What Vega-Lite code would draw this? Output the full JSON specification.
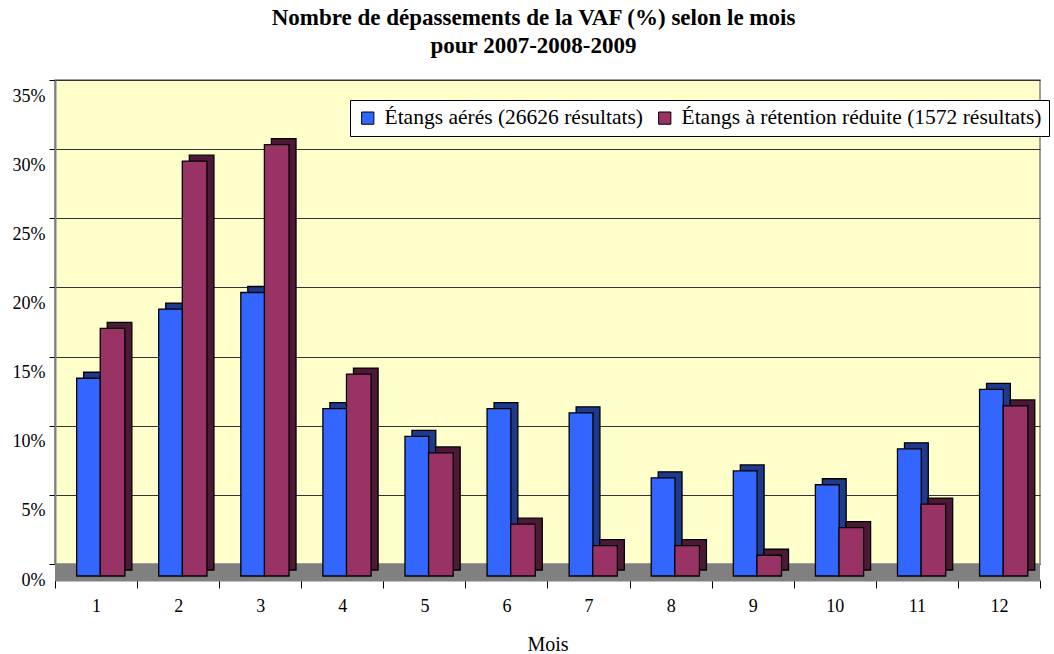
{
  "$schema": "https://vega.github.io/schema/vega-lite/v6.json",
  "width": 985,
  "height": 484,
  "autosize": {"type": "none"},
  "padding": {"left": 55, "top": 80, "right": 14, "bottom": 90},
  "background": "white",
  "title": {
    "text": ["Nombre de dépassements de la VAF (%) selon le mois", "pour 2007-2008-2009"],
    "font": "Liberation Serif",
    "fontSize": 23,
    "fontWeight": "bold",
    "color": "black",
    "lineHeight": 28,
    "anchor": "middle",
    "dx": -14,
    "offset": 22
  },
  "config": {
    "view": {"fill": "#FFFFCC", "stroke": "#808080", "strokeWidth": 1.5},
    "axis": {"labelFont": "Liberation Serif", "titleFont": "Liberation Serif", "labelColor": "black", "titleColor": "black"},
    "axisX": {
      "titleFontSize": 20, "titleFontWeight": "normal", "titlePadding": 19,
      "labelAngle": 0, "labelFontSize": 18, "labelPadding": 9,
      "tickBand": "extent", "tickSize": 8, "tickColor": "black", "domainColor": "#808080", "domainWidth": 2,
      "offset": 16, "grid": false
    },
    "axisY": {
      "labelFontSize": 18, "labelOffset": 16, "labelPadding": 4,
      "tickSize": 6, "tickColor": "black",
      "domainColor": "#808080", "domainWidth": 2,
      "grid": true, "gridColor": "#333333", "gridWidth": 1
    },
    "legend": {"labelFont": "Liberation Serif"}
  },
  "data": {
    "values": [
      {"mois": 1, "serie": "Étangs aérés (26626 résultats)", "valeur": 0.143},
      {"mois": 1, "serie": "Étangs à rétention réduite (1572 résultats)", "valeur": 0.179},
      {"mois": 2, "serie": "Étangs aérés (26626 résultats)", "valeur": 0.193},
      {"mois": 2, "serie": "Étangs à rétention réduite (1572 résultats)", "valeur": 0.300},
      {"mois": 3, "serie": "Étangs aérés (26626 résultats)", "valeur": 0.205},
      {"mois": 3, "serie": "Étangs à rétention réduite (1572 résultats)", "valeur": 0.312},
      {"mois": 4, "serie": "Étangs aérés (26626 résultats)", "valeur": 0.121},
      {"mois": 4, "serie": "Étangs à rétention réduite (1572 résultats)", "valeur": 0.146},
      {"mois": 5, "serie": "Étangs aérés (26626 résultats)", "valeur": 0.101},
      {"mois": 5, "serie": "Étangs à rétention réduite (1572 résultats)", "valeur": 0.089},
      {"mois": 6, "serie": "Étangs aérés (26626 résultats)", "valeur": 0.121},
      {"mois": 6, "serie": "Étangs à rétention réduite (1572 résultats)", "valeur": 0.0375},
      {"mois": 7, "serie": "Étangs aérés (26626 résultats)", "valeur": 0.118},
      {"mois": 7, "serie": "Étangs à rétention réduite (1572 résultats)", "valeur": 0.022},
      {"mois": 8, "serie": "Étangs aérés (26626 résultats)", "valeur": 0.071},
      {"mois": 8, "serie": "Étangs à rétention réduite (1572 résultats)", "valeur": 0.022},
      {"mois": 9, "serie": "Étangs aérés (26626 résultats)", "valeur": 0.076},
      {"mois": 9, "serie": "Étangs à rétention réduite (1572 résultats)", "valeur": 0.015},
      {"mois": 10, "serie": "Étangs aérés (26626 résultats)", "valeur": 0.066},
      {"mois": 10, "serie": "Étangs à rétention réduite (1572 résultats)", "valeur": 0.035},
      {"mois": 11, "serie": "Étangs aérés (26626 résultats)", "valeur": 0.092},
      {"mois": 11, "serie": "Étangs à rétention réduite (1572 résultats)", "valeur": 0.052},
      {"mois": 12, "serie": "Étangs aérés (26626 résultats)", "valeur": 0.135},
      {"mois": 12, "serie": "Étangs à rétention réduite (1572 résultats)", "valeur": 0.123}
    ]
  },
  "layer": [
    {
      "data": {"values": [{}]},
      "mark": {"type": "rect", "color": "#808080", "clip": false},
      "encoding": {
        "y": {"datum": 0, "type": "quantitative", "scale": {"domain": [0, 0.35]}},
        "y2": {"datum": -0.0116}
      }
    },
    {
      "transform": [{"filter": "datum.serie === 'Étangs aérés (26626 résultats)'"}],
      "mark": {"type": "bar", "width": {"band": 0.29}, "xOffset": -0.5, "yOffset": 6, "color": "#1F3A8A", "stroke": "black", "strokeWidth": 1.3, "clip": false},
      "encoding": {
        "x": {"field": "mois", "type": "ordinal", "title": "Mois", "scale": {"paddingInner": 0, "paddingOuter": 0}},
        "y": {"field": "valeur", "type": "quantitative", "title": null, "axis": {"format": ".0%", "values": [0, 0.05, 0.1, 0.15, 0.2, 0.25, 0.3, 0.35]}}
      }
    },
    {
      "transform": [{"filter": "datum.serie === 'Étangs à rétention réduite (1572 résultats)'"}],
      "mark": {"type": "bar", "width": {"band": 0.3}, "xOffset": 23.5, "yOffset": 6, "color": "#4D1A36", "stroke": "black", "strokeWidth": 1.3, "clip": false},
      "encoding": {
        "x": {"field": "mois", "type": "ordinal", "title": "Mois"},
        "y": {"field": "valeur", "type": "quantitative", "title": null}
      }
    },
    {
      "transform": [{"filter": "datum.serie === 'Étangs aérés (26626 résultats)'"}],
      "mark": {"type": "bar", "width": {"band": 0.29}, "xOffset": -7.5, "yOffset": 12, "stroke": "black", "strokeWidth": 1.3, "clip": false},
      "encoding": {
        "x": {"field": "mois", "type": "ordinal", "title": "Mois"},
        "y": {"field": "valeur", "type": "quantitative", "title": null},
        "color": {
          "field": "serie", "type": "nominal",
          "scale": {"domain": ["Étangs aérés (26626 résultats)", "Étangs à rétention réduite (1572 résultats)"], "range": ["#3366FF", "#993366"]},
          "legend": {
            "title": null, "orient": "none", "legendX": 295, "legendY": 20, "direction": "horizontal",
            "fillColor": "white", "strokeColor": "black", "padding": 7,
            "symbolType": "square", "symbolSize": 150, "symbolStrokeColor": "black", "symbolStrokeWidth": 1, "symbolOpacity": 1,
            "labelFont": "Liberation Serif", "labelFontSize": 21.5, "labelColor": "black", "labelLimit": 600, "labelOffset": 6,
            "columnPadding": 10
          }
        }
      }
    },
    {
      "transform": [{"filter": "datum.serie === 'Étangs à rétention réduite (1572 résultats)'"}],
      "mark": {"type": "bar", "width": {"band": 0.3}, "xOffset": 16.5, "yOffset": 12, "stroke": "black", "strokeWidth": 1.3, "clip": false},
      "encoding": {
        "x": {"field": "mois", "type": "ordinal", "title": "Mois"},
        "y": {"field": "valeur", "type": "quantitative", "title": null},
        "color": {"field": "serie", "type": "nominal"}
      }
    }
  ]
}
